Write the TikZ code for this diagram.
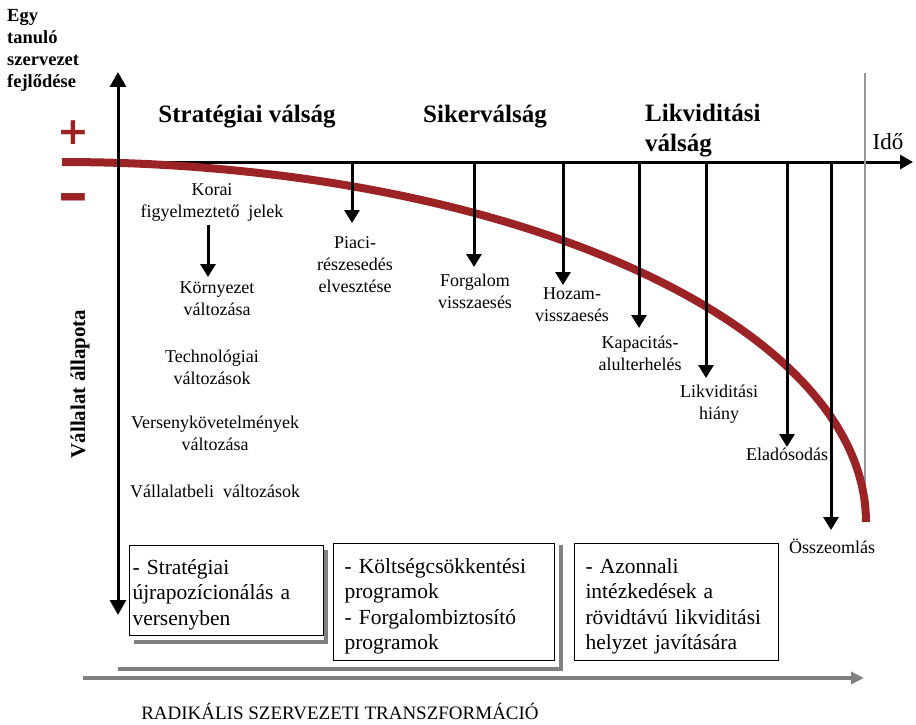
\documentclass[tikz,border=0pt]{standalone}
\usepackage{fontspec}
\setmainfont{Liberation Serif}
\newfontfamily\djvb{DejaVu Sans}[BoldFont=* Bold]
\usetikzlibrary{arrows.meta}
\definecolor{cred}{RGB}{155,35,38}
\definecolor{cgray}{RGB}{128,128,128}
\definecolor{lgray}{RGB}{150,150,150}
\newcommand{\firstup}{\rule{0pt}{23.5pt}}
\begin{document}
\begin{tikzpicture}[x=1pt,y=-1pt,
  lbl/.style={font=\fontsize{18}{22}\selectfont, align=center, inner sep=0pt},
  hdr/.style={font=\bfseries\fontsize{25}{30}\selectfont, inner sep=0pt},
  sidetxt/.style={font=\bfseries\fontsize{18.5}{22}\selectfont, align=left, inner sep=0pt},
  boxtxt/.style={draw=black, line width=1pt, fill=white,
    font=\fontsize{21.5}{25.5}\selectfont, align=left, inner xsep=11pt,
    inner ysep=2pt, anchor=north west},
  blk/.style={line width=3pt, -{Triangle[width=15pt,length=13pt]}},
  axisarrow/.style={line width=3pt},
  shadowline/.style={draw=cgray, line width=4pt},
  signtxt/.style={text=cred, font=\djvb\bfseries\fontsize{38}{38}\selectfont, inner sep=0pt}]
\useasboundingbox (0,0) rectangle (916,725);

% coordinates
\coordinate (axtop) at (118,72);
\coordinate (axbot) at (118,615);
\coordinate (haxL) at (118,162);
\coordinate (haxR) at (913,162);
\coordinate (gtop) at (865,73);
\coordinate (gbot) at (865,522);

% horizontal axis
\draw[axisarrow, -{Triangle[width=14pt,length=13pt]}] (haxL) -- (haxR);
% gray vertical line
\draw[lgray, line width=2.5pt] (gtop) -- (gbot);
% red curve (quarter ellipse)
\draw[cred, line width=8pt] plot[domain=0:90, samples=120, variable=\t] ({62+804*sin(\t)}, {522-360*cos(\t)});
% vertical axis
\draw[axisarrow, {Triangle[width=16pt,length=15pt]}-{Triangle[width=16pt,length=15pt]}] (axbot) -- (axtop);

% side labels
\node[sidetxt, anchor=north west] (egy) at (7,9.5) {Egy\\tanuló\\szervezet\\fejlődése};
\node[signtxt] (plus) at (73,133) {+};
\node[signtxt] (minus) at (73,206) {\scalebox{1}[1.7]{−}};
\node[font=\bfseries\fontsize{21}{24}\selectfont, rotate=90, inner sep=0pt] (allapot) at (80,384) {Vállalat állapota};
\node[font=\fontsize{23}{26}\selectfont, inner sep=0pt] (ido) at (888,142) {Idő};

% headers
\node[hdr, anchor=base] (h1) at (247,122) {Stratégiai válság};
\node[hdr, anchor=base] (h2) at (485,122) {Sikerválság};
\node[hdr, align=left, anchor=west] (h3) at (645,131) {Likviditási\\válság};

% left column labels
\node[lbl] (korai) at (212,202) {Korai\\figyelmeztető\ \ jelek};
\node[lbl] (korny) at (217,298.5) {Környezet\\változása};
\node[lbl] (techn) at (212,367.5) {Technológiai\\változások};
\node[lbl] (verseny) at (215,433.5) {Versenykövetelmények\\változása};
\node[lbl] (vallalat) at (215,491) {Vállalatbeli\ \ változások};

% labels under arrows
\node[lbl] (piaci) at (355,264.5) {Piaci-\\részesedés\\elvesztése};
\node[lbl] (forg) at (475,291) {Forgalom\\visszaesés};
\node[lbl] (hozam) at (572,304.5) {Hozam-\\visszaesés};
\node[lbl] (kapac) at (640,353.5) {Kapacitás-\\alulterhelés};
\node[lbl] (likv) at (719,404.5) {Likviditási\\hiány};
\node[lbl] (elad) at (787,454) {Eladósodás};
\node[lbl] (ossz) at (832,546) {Összeomlás};

% arrows from axis
\coordinate (a1) at (352,162); \coordinate (t1) at (352,223);
\coordinate (a2) at (474,162); \coordinate (t2) at (474,267);
\coordinate (a3) at (563,162); \coordinate (t3) at (563,285);
\coordinate (a4) at (639,162); \coordinate (t4) at (639,328);
\coordinate (a5) at (706,162); \coordinate (t5) at (706,378);
\coordinate (a6) at (787,162); \coordinate (t6) at (787,447);
\coordinate (a7) at (831,162); \coordinate (t7) at (831,530);
\coordinate (k1) at (208,225); \coordinate (k2) at (208,277);
\foreach \i in {1,...,7} {\draw[blk] (a\i) -- (t\i);}
\draw[blk] (k1) -- (k2);

% shadows
\coordinate (s1a) at (134,642); \coordinate (s1b) at (326,642); \coordinate (s1c) at (326,550);
\draw[shadowline] (s1a) -- (s1b) -- (s1c);
\coordinate (s2a) at (118,669); \coordinate (s2b) at (561,669); \coordinate (s2c) at (561,545);
\draw[shadowline] (s2a) -- (s2b) -- (s2c);

% boxes
\node[boxtxt, inner xsep=3pt, text width=188pt, minimum height=90pt] (box1) at (129,545)
  {\firstup- Stratégiai\\újrapozícionálás a\\versenyben};
\node[boxtxt, text width=199pt, minimum height=117pt] (box2) at (333,543)
  {\firstup- Költségcsökkentési\\programok\\- Forgalombiztosító\\programok};
\node[boxtxt, text width=182pt, minimum height=117pt] (box3) at (574,543)
  {\firstup- Azonnali\\intézkedések a\\rövidtávú likviditási\\helyzet javítására};

% bottom gray arrow
\coordinate (g1) at (83,678); \coordinate (g2) at (864,678);
\draw[cgray, line width=4pt, -{Triangle[width=12pt,length=13pt]}] (g1) -- (g2);
\node[font=\fontsize{19}{22}\selectfont, inner sep=0pt, anchor=base] (radik) at (340,719)
  {RADIKÁLIS SZERVEZETI TRANSZFORMÁCIÓ};
\end{tikzpicture}
\end{document}
